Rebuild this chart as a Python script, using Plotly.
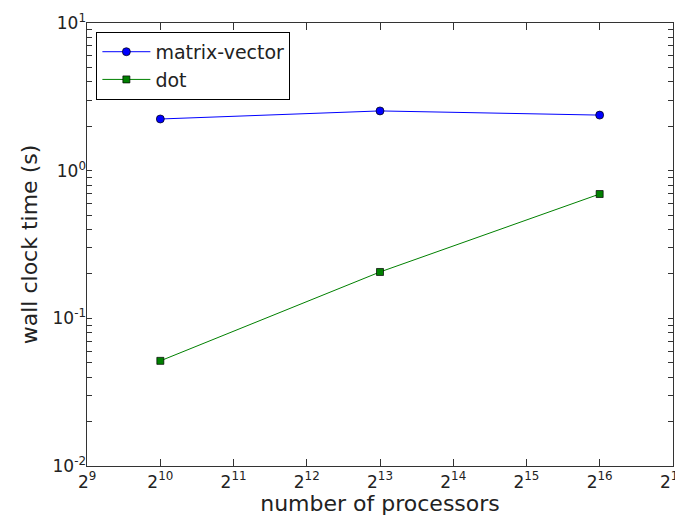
import plotly.graph_objects as go

processors = [2**10, 2**13, 2**16]
matvec_time = [2.24, 2.54, 2.38]
dot_time = [0.0515, 0.206, 0.695]

x_tick_exps = list(range(9, 18))
y_tick_exps = [-2, -1, 0, 1]
y_minor_vals = [m * 10.0**e for e in [-2, -1, 0] for m in range(2, 10)]

fig = go.Figure()
fig.add_trace(go.Scatter(
    x=processors, y=matvec_time, name="matrix-vector", mode="lines+markers",
    line=dict(color="#0000ff", width=1),
    marker=dict(symbol="circle", size=8, color="#0000ff", line=dict(color="black", width=0.7)),
))
fig.add_trace(go.Scatter(
    x=processors, y=dot_time, name="dot", mode="lines+markers",
    line=dict(color="#008000", width=1),
    marker=dict(symbol="square", size=7, color="#008000", line=dict(color="black", width=0.7)),
))
# invisible helper trace so the label axis is drawn
fig.add_trace(go.Scatter(
    x=[processors[0]], y=[matvec_time[0]], xaxis="x", yaxis="y2", mode="markers",
    marker=dict(opacity=0), showlegend=False, hoverinfo="skip",
))

font_family = "DejaVu Sans"
eps = 0.0005
all_y_ticks = [10.0**e for e in y_tick_exps] + y_minor_vals
fig.update_layout(
    width=675, height=508,
    margin=dict(l=79, r=10, t=15, b=50),
    paper_bgcolor="white", plot_bgcolor="white",
    font=dict(family=font_family, size=17, color="#222222"),
    showlegend=True,
    legend=dict(
        x=0.016, y=0.98, xanchor="left", yanchor="top",
        bordercolor="black", borderwidth=1, bgcolor="white",
        font=dict(size=19, color="#222222"), itemwidth=48,
    ),
    xaxis=dict(
        type="log", range=[9 * 0.30103 - eps, 17 * 0.30103 + eps],
        tickvals=[2**e for e in x_tick_exps],
        ticktext=[f"2<sup>{e}</sup>" for e in x_tick_exps],
        ticks="inside", ticklen=7, tickcolor="#333333", tickwidth=1,
        showline=True, linecolor="#333333", linewidth=1.2, mirror="ticks",
        showgrid=False, zeroline=False, automargin=False,
        ticklabeloverflow="allow",
        title=dict(text="number of processors", font=dict(size=22), standoff=5),
    ),
    yaxis=dict(
        type="log", range=[-2 - eps, 1 + eps],
        tickvals=all_y_ticks, ticktext=["" for _ in all_y_ticks], showticklabels=False,
        ticks="inside", ticklen=5, tickcolor="#333333", tickwidth=1,
        showline=True, linecolor="#333333", linewidth=1.2, mirror="ticks",
        showgrid=False, zeroline=False, automargin=False,
    ),
    yaxis2=dict(
        type="log", range=[-2 - eps, 1 + eps], overlaying="y", side="left", anchor="x",
        tickvals=[10.0**e for e in y_tick_exps],
        ticktext=[f"10<sup>{e}</sup>" for e in y_tick_exps],
        ticks="", showline=False, showgrid=False, zeroline=False, automargin=False,
        title=dict(text="wall clock time (s)", font=dict(size=22), standoff=8),
    ),
)

fig.write_html("out.html")
